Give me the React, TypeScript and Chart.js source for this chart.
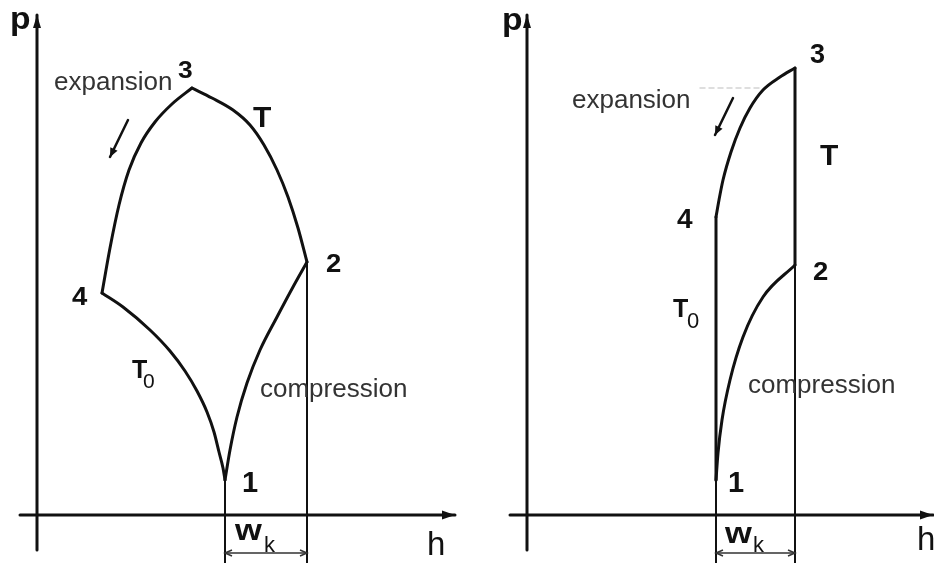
import React, { useEffect, useRef } from "react";
import { Chart, registerables } from "chart.js";

Chart.register(...registerables);

// ---- Left diagram: cycle 1-2-3-4 on the p-h plane (h, p in diagram units) ----
const leftIsoTH = [38.75, 43.75, 49, 53.25, 56.75, 60, 62.75, 65.25, 67.5];
const leftIsoTP = [85.4, 83.4, 81, 78, 74, 69, 63.6, 57.4, 50.6];
const leftExpH = [38.75, 33.75, 29.5, 26, 23, 20.5, 18.25, 16.25];
const leftExpP = [85.4, 82.2, 78.6, 74.4, 69, 62, 53.4, 44.4];
const leftIsoT0H = [16.25, 21.5, 28.25, 33.25, 37, 40, 42.5, 44.25, 45.5, 46.5, 47];
const leftIsoT0P = [44.4, 41.6, 37, 32.8, 28.8, 24.8, 20.6, 16.6, 12.6, 9.4, 7];
const leftCompH = [47, 48.25, 50, 52.5, 55.75, 60, 64, 67.5];
const leftCompP = [7, 13, 19.6, 26.4, 33, 39.6, 45.6, 50.6];

// ---- Right diagram ----
const rightExpH = [67, 63.25, 59, 55.75, 53.25, 51, 49, 48, 47.25];
const rightExpP = [89.4, 87.6, 85, 81.4, 77.4, 72.6, 67, 63, 59.6];
const rightCompH = [47.25, 47.75, 48.75, 50.75, 54, 59, 67];
const rightCompP = [7, 12.4, 19, 27, 35.6, 43.6, 50];
// state points: [h1, h2, h3, h4] and [p1, p2, p3, p4]
const rightStateH = [47.25, 67, 67, 47.25];
const rightStateP = [7, 50, 89.4, 59.6];
const leftStateH = [47, 67.5, 38.75, 16.25];
const leftStateP = [7, 50.6, 85.4, 44.4];

const P_BOTTOM = -9.6;
const P_TOP = 103;
const AXIS_P_LOW = -7;
const AXIS_P_HIGH = 100;

type Pt = { x: number; y: number };
const zip = (h: number[], p: number[]): Pt[] => h.map((v, i) => ({ x: v, y: p[i] }));

type Label = {
  text: string;
  h: number;
  p: number;
  size: number;
  bold?: boolean;
  sx?: number;
  color?: string;
};

const FONT = '"Liberation Sans", Arial, sans-serif';
const INK = "#111";
const GREY_TEXT = "#333";

const leftLabels: Label[] = [
  { text: "p", h: -6.75, p: 97.2, size: 32, bold: true, sx: 1.05 },
  { text: "expansion", h: 4.25, p: 85, size: 26, color: GREY_TEXT },
  { text: "3", h: 35.25, p: 87.4, size: 24, bold: true, sx: 1.1 },
  { text: "T", h: 54, p: 77.6, size: 30, bold: true },
  { text: "2", h: 72.25, p: 48.6, size: 25, bold: true, sx: 1.1 },
  { text: "4", h: 8.75, p: 42, size: 25, bold: true, sx: 1.1 },
  { text: "T", h: 23.75, p: 27.4, size: 25, bold: true },
  { text: "0", h: 26.5, p: 25.4, size: 21 },
  { text: "compression", h: 55.75, p: 23.6, size: 26, color: GREY_TEXT },
  { text: "1", h: 51.25, p: 4.6, size: 29, bold: true },
  { text: "w", h: 49.5, p: -5, size: 30, bold: true, sx: 1.15 },
  { text: "k", h: 56.75, p: -7.4, size: 22 },
  { text: "h", h: 97.5, p: -8, size: 33 },
];

const rightLabels: Label[] = [
  { text: "p", h: -6.25, p: 97, size: 32, bold: true, sx: 1.05 },
  { text: "3", h: 70.75, p: 90.4, size: 27, bold: true },
  { text: "expansion", h: 11.25, p: 81.4, size: 26, color: GREY_TEXT },
  { text: "T", h: 73.25, p: 70, size: 30, bold: true },
  { text: "4", h: 37.5, p: 57.4, size: 28, bold: true },
  { text: "2", h: 71.5, p: 47, size: 25, bold: true, sx: 1.1 },
  { text: "T", h: 36.5, p: 39.6, size: 25, bold: true },
  { text: "0", h: 40, p: 37.4, size: 22 },
  { text: "compression", h: 55.25, p: 24.4, size: 26, color: GREY_TEXT },
  { text: "1", h: 50.25, p: 4.6, size: 29, bold: true },
  { text: "w", h: 49.5, p: -5.6, size: 30, bold: true, sx: 1.15 },
  { text: "k", h: 56.5, p: -7.4, size: 22 },
  { text: "h", h: 97.5, p: -7, size: 33 },
];

type Extra = {
  arrowEnd?: "filled" | "open";
  arrowStart?: "filled" | "open";
  headLen?: number;
  headHalf?: number;
};

const line = (data: Pt[], width: number, curved: boolean, extra: Extra = {}, color = INK, dash: number[] = []) => ({
  data,
  showLine: true,
  borderColor: color,
  backgroundColor: color,
  borderWidth: width,
  borderDash: dash,
  pointRadius: 0,
  pointHoverRadius: 0,
  cubicInterpolationMode: curved ? "monotone" : "default",
  tension: 0,
  borderCapStyle: "round",
  borderJoinStyle: "round",
  fill: false,
  ...extra,
});

function axes(hStart: number, hEnd: number) {
  return [
    line(zip([0, 0], [AXIS_P_LOW, AXIS_P_HIGH]), 3, false, { arrowEnd: "filled", headLen: 13, headHalf: 4 }),
    line(zip([hStart, hEnd], [0, 0]), 3, false, { arrowEnd: "filled", headLen: 13, headHalf: 4.5 }),
  ];
}

function bracket(h1: number, h2: number) {
  return line(zip([h1, h2], [-7.6, -7.6]), 1.5, false, {
    arrowEnd: "open",
    arrowStart: "open",
    headLen: 7,
    headHalf: 3,
  }, "#333");
}

const leftDatasets = [
  ...axes(-4.25, 104.5),
  line(zip(leftIsoTH, leftIsoTP), 3, true),
  line(zip(leftExpH, leftExpP), 3, true),
  line(zip(leftIsoT0H, leftIsoT0P), 3, true),
  line(zip(leftCompH, leftCompP), 3, true),
  line(zip([leftStateH[1], leftStateH[1]], [leftStateP[1], P_BOTTOM]), 2, false),
  line(zip([leftStateH[0], leftStateH[0]], [leftStateP[0], P_BOTTOM]), 2, false),
  bracket(leftStateH[0], leftStateH[1]),
  line(zip([22.75, 18.25], [79, 71.6]), 2.5, false, { arrowEnd: "filled", headLen: 9, headHalf: 4 }),
];

const rightDatasets = [
  ...axes(-4.25, 101.5),
  line(zip(rightExpH, rightExpP), 3, true),
  line(zip(rightCompH, rightCompP), 3, true),
  line(zip([rightStateH[2], rightStateH[1]], [rightStateP[2], rightStateP[1]]), 3, false),
  line(zip([rightStateH[1], rightStateH[1]], [rightStateP[1], P_BOTTOM]), 2, false),
  line(zip([rightStateH[3], rightStateH[0]], [rightStateP[3], rightStateP[0]]), 3, false),
  line(zip([rightStateH[0], rightStateH[0]], [rightStateP[0], P_BOTTOM]), 2, false),
  bracket(rightStateH[0], rightStateH[1]),
  line(zip([51.5, 47], [83.4, 76]), 2.5, false, { arrowEnd: "filled", headLen: 9, headHalf: 4 }),
  line(zip([43.25, 58.25], [85.4, 85.4]), 1.5, false, {}, "#d4d4d4", [5, 4]),
];

function drawHead(
  ctx: CanvasRenderingContext2D,
  tip: { x: number; y: number },
  from: { x: number; y: number },
  len: number,
  half: number,
  kind: "filled" | "open",
  color: string
) {
  const ang = Math.atan2(tip.y - from.y, tip.x - from.x);
  const bx = tip.x - Math.cos(ang) * len;
  const by = tip.y - Math.sin(ang) * len;
  const nx = -Math.sin(ang) * half;
  const ny = Math.cos(ang) * half;
  ctx.save();
  ctx.strokeStyle = color;
  ctx.fillStyle = color;
  ctx.lineWidth = 1.5;
  ctx.beginPath();
  if (kind === "filled") {
    ctx.moveTo(tip.x, tip.y);
    ctx.lineTo(bx + nx, by + ny);
    ctx.lineTo(bx - nx, by - ny);
    ctx.closePath();
    ctx.fill();
  } else {
    ctx.moveTo(bx + nx, by + ny);
    ctx.lineTo(tip.x, tip.y);
    ctx.lineTo(bx - nx, by - ny);
    ctx.stroke();
  }
  ctx.restore();
}

const diagramPlugin = {
  id: "diagramDecor",
  afterDatasetsDraw(chart: any) {
    const ctx: CanvasRenderingContext2D = chart.ctx;
    const xs = chart.scales.x;
    const ys = chart.scales.y;
    const px = (p: Pt) => ({ x: xs.getPixelForValue(p.x), y: ys.getPixelForValue(p.y) });

    chart.data.datasets.forEach((ds: any) => {
      const d: Pt[] = ds.data;
      if (ds.arrowEnd) {
        drawHead(ctx, px(d[d.length - 1]), px(d[d.length - 2]), ds.headLen, ds.headHalf, ds.arrowEnd, ds.borderColor);
      }
      if (ds.arrowStart) {
        drawHead(ctx, px(d[0]), px(d[1]), ds.headLen, ds.headHalf, ds.arrowStart, ds.borderColor);
      }
    });

    const labels: Label[] = chart.options.plugins.diagramDecor.labels;
    labels.forEach((l) => {
      const x = xs.getPixelForValue(l.h);
      const y = ys.getPixelForValue(l.p);
      ctx.save();
      ctx.font = `${l.bold ? "bold " : ""}${l.size}px ${FONT}`;
      ctx.fillStyle = l.color || INK;
      ctx.textAlign = "left";
      ctx.textBaseline = "alphabetic";
      ctx.translate(x, y);
      ctx.scale(l.sx || 1, 1);
      ctx.fillText(l.text, 0, 0);
      ctx.restore();
    });
  },
};

function makeConfig(datasets: any[], labels: Label[], hMin: number, hMax: number): any {
  return {
    type: "scatter",
    data: { datasets },
    options: {
      animation: false,
      responsive: true,
      maintainAspectRatio: false,
      layout: { padding: 0 },
      events: [],
      scales: {
        x: { type: "linear", min: hMin, max: hMax, display: false },
        y: { type: "linear", min: P_BOTTOM, max: P_TOP, display: false },
      },
      plugins: {
        legend: { display: false },
        tooltip: { enabled: false },
        diagramDecor: { labels },
      },
    },
    plugins: [diagramPlugin],
  };
}

function Panel({ config }: { config: any }) {
  const ref = useRef<HTMLCanvasElement>(null);
  useEffect(() => {
    const chart = new Chart(ref.current as HTMLCanvasElement, config);
    return () => chart.destroy();
  }, [config]);
  return (
    <div style={{ position: "relative", width: 467, height: 563 }}>
      <canvas ref={ref} />
    </div>
  );
}

const leftConfig = makeConfig(leftDatasets, leftLabels, -9.25, 107.5);
const rightConfig = makeConfig(rightDatasets, rightLabels, -15, 101.75);

export default function App() {
  return (
    <div
      style={{
        position: "fixed",
        left: 0,
        top: 0,
        width: 934,
        height: 563,
        display: "flex",
        background: "#fff",
      }}
    >
      <Panel config={leftConfig} />
      <Panel config={rightConfig} />
    </div>
  );
}
